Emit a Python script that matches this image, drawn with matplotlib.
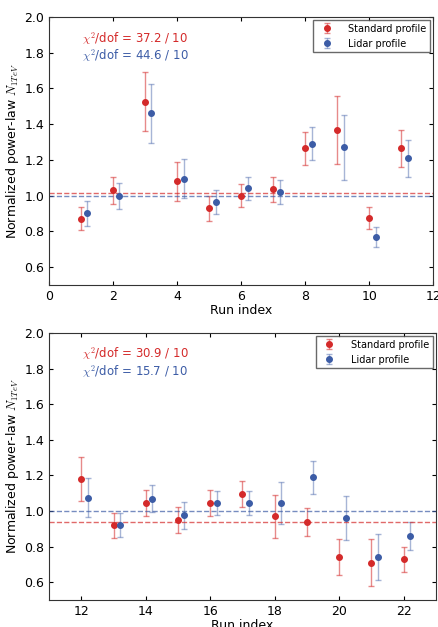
import matplotlib
matplotlib.use("Agg")
import matplotlib.pyplot as plt
import numpy as np

plt.rcParams['mathtext.fontset'] = 'cm'
plt.rcParams['font.family'] = 'DejaVu Sans'

# top panel: runs 1-11
runsTop = [1, 2, 3, 4, 5, 6, 7, 8, 9, 10, 11]
stdTop = [0.87, 1.03, 1.525, 1.08, 0.93, 1.0, 1.035, 1.265, 1.365, 0.875, 1.265]
stdTopErr = [0.065, 0.075, 0.165, 0.108, 0.07, 0.063, 0.068, 0.093, 0.19, 0.063, 0.105]
lidTop = [0.90, 1.0, 1.46, 1.095, 0.965, 1.04, 1.02, 1.29, 1.27, 0.77, 1.21]
lidTopErr = [0.07, 0.073, 0.163, 0.11, 0.068, 0.065, 0.065, 0.093, 0.18, 0.055, 0.103]
meanTop = [1.015, 1.0]
chiTop = ["37.2 / 10", "44.6 / 10"]

# bottom panel: runs 12-22
runsBot = [12, 13, 14, 15, 16, 17, 18, 19, 20, 21, 22]
stdBot = [1.18, 0.92, 1.045, 0.95, 1.045, 1.095, 0.97, 0.94, 0.74, 0.71, 0.73]
stdBotErr = [0.125, 0.07, 0.075, 0.073, 0.073, 0.075, 0.12, 0.078, 0.10, 0.13, 0.07]
lidBot = [1.075, 0.92, 1.07, 0.975, 1.045, 1.045, 1.045, 1.19, 0.96, 0.74, 0.86]
lidBotErr = [0.11, 0.068, 0.075, 0.075, 0.07, 0.07, 0.12, 0.093, 0.123, 0.13, 0.08]
meanBot = [0.94, 1.0]
chiBot = ["30.9 / 10", "15.7 / 10"]

red = '#d42a2a'
blue = '#3c5ca6'
offset = 0.2


def drawPanel(ax, runs, std, stdErr, lid, lidErr, means, chis, xlim, xticks):
    runs = np.array(runs, dtype=float)
    eb = ax.errorbar(runs, std, yerr=stdErr, fmt='o', color=red, ms=4,
                     ecolor=red, elinewidth=1.0, capsize=2, label='Standard profile')
    for c in eb[1] + eb[2]:
        c.set_alpha(0.55)
    eb = ax.errorbar(runs + offset, lid, yerr=lidErr, fmt='o', color=blue, ms=4,
                     ecolor=blue, elinewidth=1.0, capsize=2, label='Lidar profile')
    for c in eb[1] + eb[2]:
        c.set_alpha(0.45)
    ax.axhline(means[0], color=red, ls='--', lw=1.0, alpha=0.7)
    ax.axhline(means[1], color=blue, ls='--', lw=1.0, alpha=0.7)
    ax.text(0.085, 0.921, r'$\chi^2$/dof = ' + chis[0], color=red,
            transform=ax.transAxes, fontsize=8.5, va='center')
    ax.text(0.085, 0.856, r'$\chi^2$/dof = ' + chis[1], color=blue,
            transform=ax.transAxes, fontsize=8.5, va='center')
    ax.set_xlim(*xlim)
    ax.set_ylim(0.5, 2.0)
    ax.set_xticks(xticks)
    ax.set_yticks([0.6, 0.8, 1.0, 1.2, 1.4, 1.6, 1.8, 2.0])
    ax.tick_params(direction='in', top=True, right=True, labelsize=9, length=3)
    ax.set_xlabel('Run index', fontsize=9, labelpad=1)
    ax.set_ylabel(r'Normalized power-law $N_{1TeV}$', fontsize=9, labelpad=2)
    leg = ax.legend(loc='upper right', fontsize=7, numpoints=1, fancybox=False,
                    borderaxespad=0.3, handletextpad=1.2)
    leg.get_frame().set_edgecolor('#444444')
    for s in ax.spines.values():
        s.set_color('#333333')


fig = plt.figure(figsize=(4.38, 6.27), dpi=100)
axTop = fig.add_axes([0.112, 0.5455, 0.877, 0.4275])
axBot = fig.add_axes([0.112, 0.043, 0.883, 0.426])

drawPanel(axTop, runsTop, stdTop, stdTopErr, lidTop, lidTopErr, meanTop, chiTop,
          (0, 12), [0, 2, 4, 6, 8, 10, 12])
drawPanel(axBot, runsBot, stdBot, stdBotErr, lidBot, lidBotErr, meanBot, chiBot,
          (11, 23), [12, 14, 16, 18, 20, 22])

fig.savefig('out.png', dpi=100)
